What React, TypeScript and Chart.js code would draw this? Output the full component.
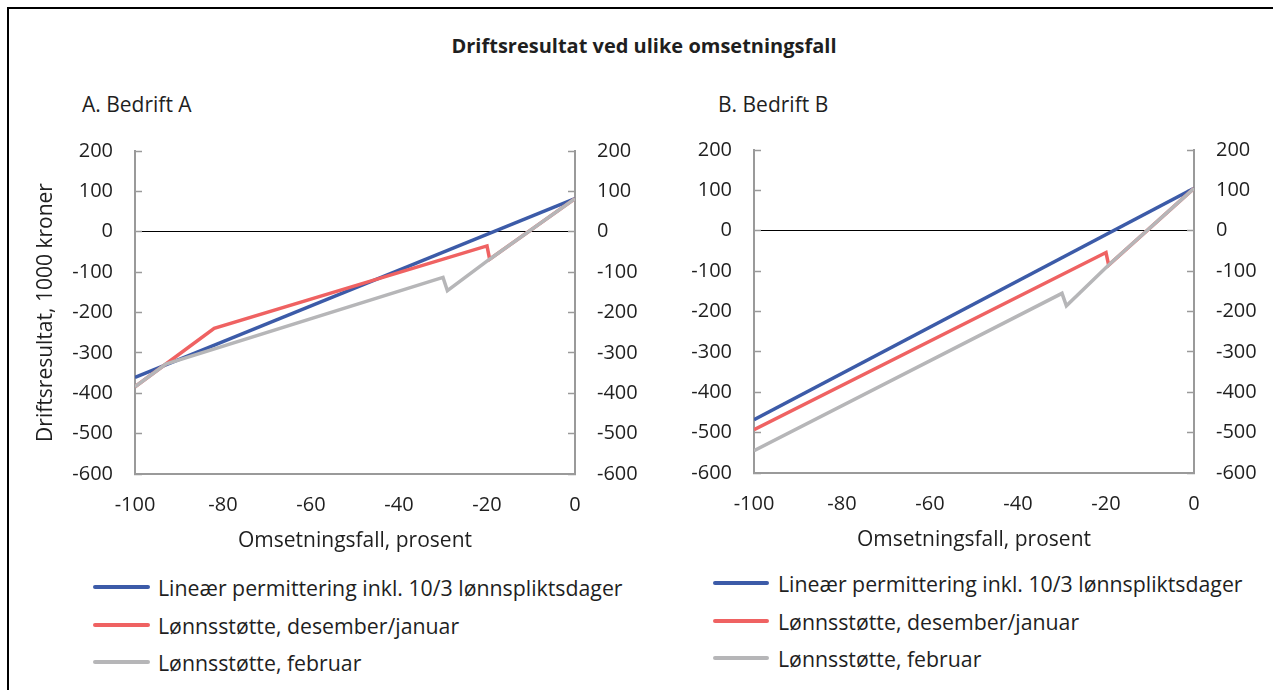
import React, { useEffect, useRef } from "react";
import { Chart, registerables } from "chart.js";

Chart.register(...registerables);

const FONT = "'Open Sans', 'Noto Sans', sans-serif";
const TEXT = "#1f1f1f";
const AXIS = "#9a9a9a";

const titleText = "Driftsresultat ved ulike omsetningsfall";
const panelTitles = ["A. Bedrift A", "B. Bedrift B"];
const yAxisTitle = "Driftsresultat, 1000 kroner";
const xAxisTitle = "Omsetningsfall, prosent";

const seriesNames = [
  "Lineær permittering inkl. 10/3 lønnspliktsdager",
  "Lønnsstøtte, desember/januar",
  "Lønnsstøtte, februar",
];
const seriesColors = ["#3c5ba8", "#ef6262", "#b6b6b8"];

const xMin = -100;
const xMax = 0;
const xStep = 20;
const yMin = -600;
const yMax = 200;
const yStep = 100;

// Bedrift A
const aBlueX = [-100, 0];
const aBlueY = [-361, 82];
const aRedX = [-100, -82, -20, -19.4, 0];
const aRedY = [-384, -239, -35, -68, 82];
const aGrayX = [-100, -93, -30, -29, -19.4, 0];
const aGrayY = [-384, -328, -113, -146, -68, 82];

// Bedrift B
const bBlueX = [-100, 0];
const bBlueY = [-468, 105];
const bRedX = [-100, -20, -19.4, 0];
const bRedY = [-493, -54, -85, 105];
const bGrayX = [-100, -30, -29, -19.4, 0];
const bGrayY = [-545, -155, -186, -85, 105];

const zip = (xs: number[], ys: number[]) => xs.map((x, i) => ({ x, y: ys[i] }));

type PanelProps = {
  left: number;
  top: number;
  width: number;
  height: number;
  leftAxisW: number;
  rightAxisW: number;
  showYTitle: boolean;
  series: { x: number[]; y: number[] }[];
};

function Panel(props: PanelProps) {
  const ref = useRef<HTMLCanvasElement | null>(null);
  useEffect(() => {
    if (!ref.current) return;
    const tickFont = { family: FONT, size: 20 };
    const yTickCommon = {
      stepSize: yStep,
      padding: 29,
      color: TEXT,
      font: tickFont,
      callback: (v: any) => String(v),
    };
    const chart = new Chart(ref.current, {
      type: "line",
      data: {
        datasets: props.series.map((s, i) => ({
          label: seriesNames[i],
          data: zip(s.x, s.y),
          borderColor: seriesColors[i],
          backgroundColor: seriesColors[i],
          borderWidth: 3.5,
          pointRadius: 0,
          tension: 0,
          fill: false,
          order: 2 - i,
        })),
      },
      options: {
        animation: false,
        responsive: false,
        layout: { padding: { top: 20, left: 0, right: 0, bottom: 0 } },
        plugins: { legend: { display: false }, tooltip: { enabled: false } },
        scales: {
          x: {
            type: "linear",
            position: "bottom",
            min: xMin,
            max: xMax,
            afterFit: (s: any) => {
              s.height = 84;
            },
            grid: { display: false, drawTicks: false },
            border: { display: true, color: AXIS, width: 2 },
            ticks: {
              stepSize: xStep,
              padding: 19,
              color: TEXT,
              font: tickFont,
              maxRotation: 0,
              callback: (v: any) => String(v),
            },
            title: {
              display: true,
              text: xAxisTitle,
              color: TEXT,
              font: { family: FONT, size: 21 },
              padding: { top: 0, bottom: 4 },
            },
          },
          y: {
            type: "linear",
            position: "left",
            min: yMin,
            max: yMax,
            afterFit: (s: any) => {
              s.width = props.leftAxisW;
            },
            grid: {
              color: (ctx: any) => (ctx.tick && ctx.tick.value === 0 ? "#000000" : "rgba(0,0,0,0)"),
              lineWidth: 1,
              tickLength: -7,
              tickColor: AXIS,
              tickWidth: 1.5,
            },
            border: { display: true, color: AXIS, width: 2 },
            ticks: yTickCommon,
            title: {
              display: props.showYTitle,
              text: yAxisTitle,
              color: TEXT,
              font: { family: FONT, size: 21 },
              padding: { top: 13, bottom: 0 },
            },
          },
          y2: {
            type: "linear",
            position: "right",
            min: yMin,
            max: yMax,
            afterFit: (s: any) => {
              s.width = props.rightAxisW;
            },
            grid: {
              drawOnChartArea: false,
              tickLength: -7,
              tickColor: AXIS,
              tickWidth: 1.5,
              color: AXIS,
            },
            border: { display: true, color: AXIS, width: 2 },
            ticks: yTickCommon,
          },
        },
      } as any,
    });
    return () => chart.destroy();
  }, []);
  return (
    <canvas
      ref={ref}
      width={props.width}
      height={props.height}
      style={{
        position: "absolute",
        left: props.left,
        top: props.top,
        width: props.width,
        height: props.height,
      }}
    />
  );
}

function TextAt(p: { x: number; y: number; size: number; bold?: boolean; center?: boolean; children: any }) {
  return (
    <div
      style={{
        position: "absolute",
        left: p.x,
        top: p.y,
        transform: p.center ? "translate(-50%, -50%)" : "translateY(-50%)",
        fontSize: p.size,
        fontWeight: p.bold ? 700 : 400,
        whiteSpace: "nowrap",
        lineHeight: "normal",
      }}
    >
      {p.children}
    </div>
  );
}

function Legend(p: { x: number; y0: number; gap: number; lineW: number; textX: number }) {
  return (
    <>
      {seriesNames.map((name, i) => (
        <React.Fragment key={name}>
          <div
            style={{
              position: "absolute",
              left: p.x,
              top: p.y0 + i * p.gap - 2,
              width: p.lineW,
              height: 4,
              borderRadius: 2,
              background: seriesColors[i],
            }}
          />
          <TextAt x={p.textX} y={p.y0 + i * p.gap} size={21.3}>
            {name}
          </TextAt>
        </React.Fragment>
      ))}
    </>
  );
}

export default function App() {
  return (
    <div
      style={{
        position: "fixed",
        left: 0,
        top: 0,
        width: 1273,
        height: 690,
        overflow: "hidden",
        background: "#ffffff",
        fontFamily: FONT,
        color: TEXT,
      }}
    >
      <div
        style={{
          position: "absolute",
          left: 7,
          top: 7,
          width: 1400,
          height: 900,
          border: "2px solid #000",
        }}
      />
      <TextAt x={644} y={45} size={20} bold center>
        {titleText}
      </TextAt>
      <TextAt x={82} y={104} size={21}>
        {panelTitles[0]}
      </TextAt>
      <TextAt x={718} y={104} size={21}>
        {panelTitles[1]}
      </TextAt>
      <Panel
        left={20}
        top={110}
        width={620}
        height={448}
        leftAxisW={115}
        rightAxisW={65}
        showYTitle={true}
        series={[
          { x: aBlueX, y: aBlueY },
          { x: aRedX, y: aRedY },
          { x: aGrayX, y: aGrayY },
        ]}
      />
      <Panel
        left={640}
        top={109}
        width={619}
        height={448}
        leftAxisW={114}
        rightAxisW={65}
        showYTitle={false}
        series={[
          { x: bBlueX, y: bBlueY },
          { x: bRedX, y: bRedY },
          { x: bGrayX, y: bGrayY },
        ]}
      />
      <Legend x={93} y0={587} gap={37.5} lineW={57} textX={158} />
      <Legend x={713} y0={583} gap={37.5} lineW={56} textX={778} />
    </div>
  );
}
